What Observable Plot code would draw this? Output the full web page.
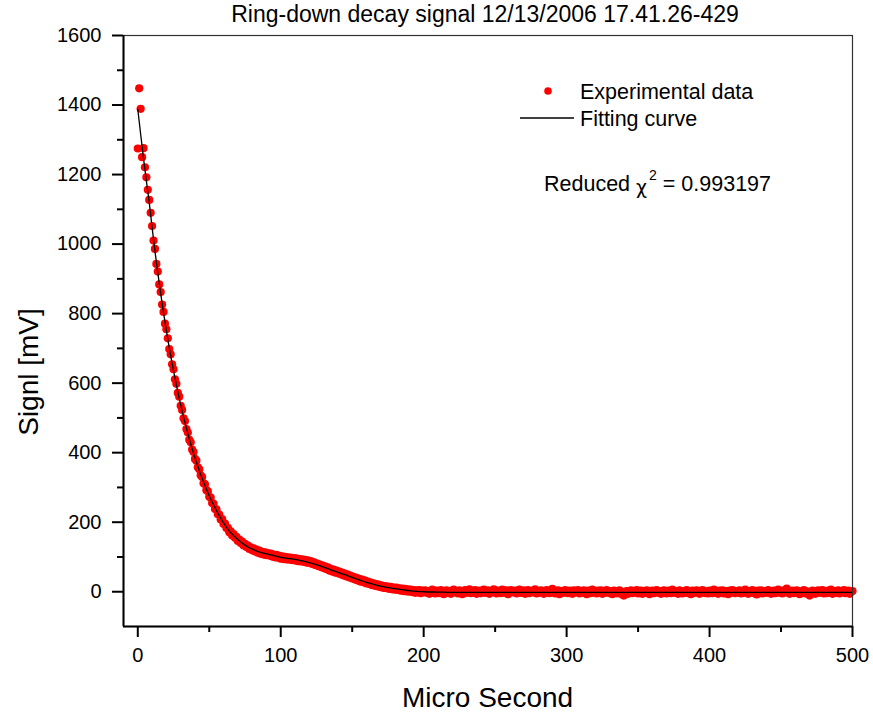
<!DOCTYPE html>
<html>
<head>
<meta charset="utf-8">
<script src="https://cdn.jsdelivr.net/npm/d3@7"></script>
<script src="https://cdn.jsdelivr.net/npm/@observablehq/plot@0.6"></script>
<style>
  html, body { margin: 0; padding: 0; background: #fff; }
  body { width: 873px; height: 712px; position: relative; overflow: hidden; font-family: "Liberation Sans", Arial, sans-serif; color: #000; }
  #title { height: 27px; line-height: 28px; font-size: 23px; text-align: center; box-sizing: border-box; padding-left: 97px; white-space: nowrap; }
  #chart svg { display: block; }
</style>
</head>
<body>
<div id="title"></div>
<div id="chart"></div>
<script>
// ---------------- data ----------------
const titleText = "Ring-down decay signal 12/13/2006 17.41.26-429";
const xLabel = "Micro Second";
const yLabel = "Signl [mV]";
const legendData = "Experimental data";
const legendFit = "Fitting curve";
const chiLabel = "Reduced ";
const chiValue = "0.993197";

const xDomain = [-10, 500];
const yDomain = [-100, 1600];
const xTicks = [0, 100, 200, 300, 400, 500];
const xMinorTicks = [50, 150, 250, 350, 450];
const yTicks = [0, 200, 400, 600, 800, 1000, 1200, 1400, 1600];
const yMinorTicks = [100, 300, 500, 700, 900, 1100, 1300, 1500];

// experimental samples, one every 1 microsecond starting at 0
const sampleStart = 0;
const sampleStep = 1;
const signal = [
  1275, 1448, 1389, 1250, 1276, 1221, 1192, 1156, 1127, 1090,
  1052, 1010, 986, 943, 921, 884, 862, 826, 805, 771,
  755, 729, 698, 683, 654, 640, 611, 598, 572, 561,
  535, 523, 499, 491, 468, 458, 437, 430, 409, 402,
  382, 377, 358, 352, 335, 330, 312, 309, 292, 289,
  273, 271, 255, 253, 238, 237, 223, 222, 208, 209,
  195, 196, 183, 184, 171, 174, 162, 166, 155, 158,
  146, 150, 140, 144, 133, 138, 129, 133, 123, 128,
  119, 125, 116, 121, 112, 118, 109, 115, 107, 113,
  105, 111, 104, 110, 101, 107, 99, 106, 98, 103,
  95, 102, 94, 100, 93, 99, 92, 98, 91, 97,
  90, 96, 88, 94, 87, 93, 86, 92, 84, 90,
  83, 88, 80, 85, 77, 82, 74, 79, 71, 76,
  68, 73, 65, 70, 61, 66, 58, 64, 55, 61,
  53, 58, 50, 55, 47, 52, 44, 49, 41, 46,
  38, 43, 35, 40, 32, 37, 29, 35, 27, 32,
  24, 29, 22, 26, 19, 24, 17, 22, 15, 20,
  13, 18, 11, 16, 10, 15, 8, 14, 7, 12,
  6, 12, 5, 10, 3, 9, 2, 8, 1, 7,
  0, 6, -1, 5, -3, 4, -2, 5, -4, 3,
  -1,
  4, -3, 2, -6, 1, 6, -2, -5, 3, 0, -4, 5, -1, -7, 2, 4, -3, 1, -6, 3,
  6, -2, 0, -5, 4, 2, -7, 1, 5, -3, -1, 7, -4, 2, -2, 5, -6, 0, 3, -4,
  1, 6, -3, -1, 4, -6, 2, 0, 7, -2, -5, 3, 1, -4, 6, -1, -3, 4, -7, 2,
  5, -2, 0, 3, -5, 1, 6, -3, -1, 4, -6, 2, 5, -4, 0, 3, -2, 7, -5, 1,
  -3, 4, 2, -6, 0, 5, -1, -4, 3, 8, -2, -5, 1, 4, -7, 2, 0, -3, 5, -1,
  -4, 3, 1, -6, 4, -2, 0, 5, -5, 2, -3, 4, -1, -7, 3, 1, -4, 6, -2, 0,
  -5, 3, -1, 4, -6, 1, -3, 5, 0, -4, 2, -7, 3, -2, 1, -5, 4, -1, -8, -11,
  -3, 2, -6, 0, 4, -4, 1, -2, 5, -5, 0, 3, -6, 2, -3, 4, -1, -7, 1, 3,
  -4, 0, 5, -3, 2, -6, 1, 4, -2, -5, 3, 0, -4, 6, -1, -3, 2, -6, 4, 0,
  -5, 2, -2, 5, -4, 1, -7, 3, 0, -3, 4, -1, -6, 2, 5, -2, -4, 1, -5, 3,
  0, -4, 6, -2, 1, -6, 3, -1, 4, -5, 0, 2, -7, 3, -3, 5, -1, -4, 2, -2,
  4, -5, 1, -3, 6, 0, -6, 2, -2, 5, -4, 1, -8, 3, -1, 4, -5, 0, 2, -3,
  5, -2, -6, 1, 3, -4, 0, 6, -3, 2, -5, 4, -1, 9, -2, -6, 1, 3, -4, 0,
  4, -3, -7, 2, -1, 5, -5, 1, -2, -11, -4, 3, 0, -6, 2, 4, -3, -1, 5, -5,
  1, -4, 3, -2, 6, -6, 0, 2, -3, 4, -5, 1, -1, 5, -4, -2, 3, -6, 0, 2
];

// fitting curve
const fitX = [0, 2, 4, 6, 8, 10, 12, 14, 16, 18, 20, 22, 24, 26, 28, 30, 32, 34, 36, 38,
  40, 42, 44, 46, 48, 50, 52, 54, 56, 58, 60, 62, 64, 66, 68, 70, 72, 74, 76, 78,
  80, 82, 84, 86, 88, 90, 92, 94, 96, 98, 100, 105, 110, 115, 120, 125, 130, 135, 140, 145,
  150, 155, 160, 165, 170, 175, 180, 185, 190, 195, 200, 210, 220, 240, 260, 280, 300, 325, 350, 375,
  400, 425, 450, 475, 500];
const fitY = [1388, 1316, 1247, 1182, 1120, 1048, 980, 917, 858, 802, 751, 702, 657, 615, 575, 538, 503, 471, 440, 412,
  385, 361, 337, 316, 295, 276, 258, 242, 226, 212, 198, 186, 175, 166, 158, 150, 143, 137, 132, 127,
  123, 119, 116, 113, 111, 109, 107, 105, 103, 101, 99, 96, 93, 89, 84, 78, 71, 63, 56, 49,
  41, 34, 27, 21, 16, 12, 9, 6, 3, 1, 0, -1, -2, -2, -2, -2, -2, -2, -2, -2,
  -2, -2, -2, -2, -2];

// ---------------- tables ----------------
const points = signal.map((v, i) => ({t: sampleStart + i * sampleStep, v}));
const fit = fitX.map((t, i) => ({t, v: fitY[i]}));

const W = 873, H = 685;
const mL = 123, mR = 21, mT = 8, mB = 86;
const font = "'Liberation Sans', Arial, sans-serif";

document.getElementById("title").textContent = titleText;

const chart = Plot.plot({
  width: W,
  height: H,
  marginLeft: mL,
  marginRight: mR,
  marginTop: mT,
  marginBottom: mB,
  style: {fontFamily: font, color: "#000", background: "#fff", overflow: "visible"},
  x: {domain: xDomain},
  y: {domain: yDomain},
  marks: [
    Plot.dot(points, {x: "t", y: "v", r: 4.1, fill: "#ff0000", stroke: "none"}),
    Plot.line(fit, {x: "t", y: "v", stroke: "#000", strokeWidth: 1.3, curve: "monotone-x"}),
    Plot.frame({stroke: "#333", strokeWidth: 1.2}),
    Plot.ruleX([xDomain[0]], {stroke: "#000", strokeWidth: 2}),
    Plot.ruleY([yDomain[0]], {stroke: "#000", strokeWidth: 2}),
    Plot.axisX({ticks: xTicks, tickSize: 11, tickPadding: 10, fontSize: 20, strokeWidth: 2, label: null, tickFormat: d3.format("d")}),
    Plot.axisX({ticks: xMinorTicks, tickSize: 6, strokeWidth: 2, label: null, tickFormat: () => ""}),
    Plot.axisY({ticks: yTicks, tickSize: 11, tickPadding: 11, fontSize: 20, strokeWidth: 2, label: null, tickFormat: d3.format("d")}),
    Plot.axisY({ticks: yMinorTicks, tickSize: 6, strokeWidth: 2, label: null, tickFormat: () => ""})
  ]
});
document.getElementById("chart").appendChild(chart);

// ---------------- labels & legend ----------------
const svg = d3.select(chart);
const top0 = 27; // page y of svg top
const innerCx = mL + (W - mL - mR) / 2;

svg.append("text")
  .attr("x", innerCx).attr("y", 707 - top0)
  .attr("text-anchor", "middle")
  .style("font-family", font).style("font-size", "28px").attr("fill", "#000")
  .text(xLabel);

svg.append("text")
  .attr("transform", `translate(38, ${372 - top0}) rotate(-90)`)
  .attr("text-anchor", "middle")
  .style("font-family", font).style("font-size", "28px").attr("fill", "#000")
  .text(yLabel);

const lg = svg.append("g")
  .attr("text-anchor", "start")
  .style("font-family", font).style("font-size", "21.5px").attr("fill", "#000");
lg.append("circle").attr("cx", 548).attr("cy", 91 - top0).attr("r", 3.8).attr("fill", "#ff0000");
lg.append("text").attr("text-anchor", "start").attr("x", 580).attr("y", 98.5 - top0).text(legendData);
lg.append("line").attr("x1", 520).attr("x2", 574).attr("y1", 118 - top0).attr("y2", 118 - top0)
  .attr("stroke", "#000").attr("stroke-width", 1.3);
lg.append("text").attr("text-anchor", "start").attr("x", 580).attr("y", 125.5 - top0).text(legendFit);

const chi = lg.append("text").attr("text-anchor", "start").attr("x", 544).attr("y", 191 - top0);
chi.append("tspan").text(chiLabel);
chi.append("tspan").style("font-family", "'DejaVu Sans', sans-serif").style("font-size", "19px").attr("dy", 3).text("χ");
chi.append("tspan").style("font-size", "14px").attr("dy", -14).attr("dx", 2).text("2");
chi.append("tspan").attr("dy", 11).text(" = " + chiValue);
</script>
</body>
</html>
